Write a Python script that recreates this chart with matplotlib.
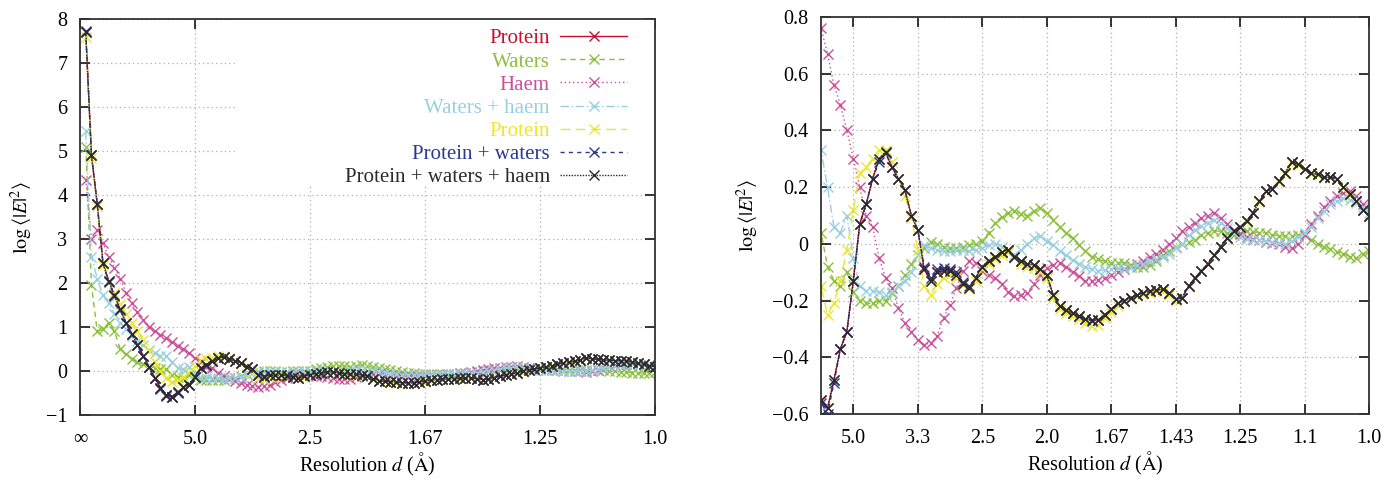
import numpy as np
import matplotlib
matplotlib.use('agg')
import matplotlib.pyplot as plt
from matplotlib.patches import Rectangle

plt.rcParams['font.family'] = ['Liberation Serif', 'DejaVu Serif']
plt.rcParams['mathtext.fontset'] = 'stix'

# resolution bins, 1/d in 1/Angstrom
inv_d = np.arange(1, 101) / 100.0

pwh = [7.70, 4.90, 3.80, 2.45, 2.05, 1.72, 1.40, 1.10, 0.85, 0.60,
       0.35, 0.10, -0.15, -0.38, -0.55, -0.58, -0.48, -0.37, -0.31, -0.13,
       0.07, 0.14, 0.23, 0.30, 0.325, 0.27, 0.23, 0.19, 0.10, 0.05,
       -0.09, -0.13, -0.10, -0.095, -0.095, -0.11, -0.14, -0.155, -0.12, -0.08,
       -0.06, -0.045, -0.03, -0.02, -0.045, -0.06, -0.07, -0.075, -0.09, -0.11,
       -0.18, -0.22, -0.235, -0.245, -0.255, -0.265, -0.27, -0.268, -0.25, -0.23,
       -0.21, -0.20, -0.19, -0.18, -0.172, -0.167, -0.163, -0.16, -0.175, -0.195,
       -0.19, -0.15, -0.12, -0.095, -0.07, -0.04, -0.01, 0.02, 0.045, 0.06,
       0.08, 0.11, 0.15, 0.185, 0.195, 0.22, 0.25, 0.29, 0.28, 0.265,
       0.25, 0.245, 0.235, 0.235, 0.23, 0.20, 0.175, 0.15, 0.12, 0.10]

protein_waters = [7.72, 4.90, 3.80, 2.45, 2.02, 1.70, 1.38, 1.08, 0.83, 0.58,
                  0.33, 0.08, -0.17, -0.40, -0.56, -0.60, -0.49, -0.37, -0.31, -0.13,
                  0.07, 0.14, 0.23, 0.29, 0.32, 0.27, 0.23, 0.19, 0.10, 0.05,
                  -0.08, -0.12, -0.09, -0.085, -0.09, -0.10, -0.135, -0.15, -0.12, -0.08,
                  -0.06, -0.045, -0.03, -0.02, -0.045, -0.06, -0.07, -0.075, -0.09, -0.11,
                  -0.18, -0.22, -0.235, -0.245, -0.255, -0.265, -0.272, -0.268, -0.25, -0.23,
                  -0.21, -0.20, -0.19, -0.18, -0.172, -0.167, -0.163, -0.16, -0.175, -0.195,
                  -0.19, -0.15, -0.12, -0.095, -0.07, -0.04, -0.01, 0.02, 0.045, 0.06,
                  0.08, 0.11, 0.15, 0.185, 0.195, 0.22, 0.25, 0.29, 0.28, 0.265,
                  0.25, 0.245, 0.235, 0.235, 0.23, 0.20, 0.175, 0.15, 0.12, 0.10]

protein = [7.60, 4.85, 3.75, 2.40, 2.05, 1.78, 1.52, 1.30, 1.10, 0.90,
           0.70, 0.45, 0.20, 0.00, -0.15, -0.25, -0.21, -0.13, -0.02, 0.12,
           0.25, 0.27, 0.30, 0.33, 0.33, 0.29, 0.23, 0.17, 0.09, -0.02,
           -0.15, -0.18, -0.14, -0.12, -0.11, -0.12, -0.145, -0.16, -0.13, -0.09,
           -0.07, -0.055, -0.04, -0.03, -0.05, -0.07, -0.08, -0.085, -0.10, -0.12,
           -0.19, -0.23, -0.245, -0.255, -0.265, -0.28, -0.29, -0.285, -0.26, -0.24,
           -0.22, -0.205, -0.195, -0.185, -0.178, -0.172, -0.168, -0.165, -0.18, -0.20,
           -0.192, -0.153, -0.122, -0.097, -0.072, -0.043, -0.012, 0.018, 0.043, 0.058,
           0.078, 0.108, 0.148, 0.183, 0.193, 0.218, 0.248, 0.285, 0.278, 0.263,
           0.248, 0.243, 0.233, 0.232, 0.228, 0.198, 0.173, 0.148, 0.118, 0.098]

waters = [5.10, 1.95, 0.90, 0.95, 1.10, 0.90, 0.50, 0.38, 0.28, 0.20,
          0.15, 0.10, 0.07, 0.05, 0.04, -0.08, -0.13, -0.15, -0.10, -0.17,
          -0.20, -0.21, -0.21, -0.20, -0.20, -0.175, -0.15, -0.11, -0.07, -0.04,
          -0.015, 0.005, 0.0, -0.01, -0.015, -0.015, -0.01, -0.005, 0.0, 0.01,
          0.04, 0.075, 0.095, 0.11, 0.115, 0.105, 0.10, 0.115, 0.125, 0.11,
          0.085, 0.06, 0.04, 0.02, -0.005, -0.025, -0.045, -0.055, -0.062, -0.067,
          -0.067, -0.067, -0.075, -0.083, -0.08, -0.073, -0.06, -0.04, -0.025, -0.01,
          0.0, 0.005, 0.015, 0.03, 0.04, 0.045, 0.045, 0.04, 0.033, 0.04,
          0.045, 0.042, 0.04, 0.038, 0.033, 0.028, 0.027, 0.027, 0.03, 0.033,
          0.015, 0.0, -0.01, -0.018, -0.027, -0.035, -0.045, -0.05, -0.035, -0.025]

haem = [4.35, 3.00, 3.20, 2.90, 2.60, 2.35, 2.10, 1.78, 1.55, 1.33,
        1.15, 1.00, 0.90, 0.82, 0.76, 0.67, 0.56, 0.49, 0.40, 0.30,
        0.20, 0.10, 0.06, -0.05, -0.12, -0.155, -0.225, -0.28, -0.31, -0.34,
        -0.355, -0.35, -0.325, -0.26, -0.215, -0.155, -0.095, -0.06, -0.067, -0.095,
        -0.11, -0.12, -0.14, -0.17, -0.185, -0.18, -0.175, -0.14, -0.11, -0.085,
        -0.073, -0.068, -0.08, -0.10, -0.115, -0.13, -0.13, -0.126, -0.12, -0.11,
        -0.10, -0.09, -0.08, -0.07, -0.06, -0.045, -0.035, -0.02, 0.0, 0.02,
        0.045, 0.06, 0.075, 0.09, 0.10, 0.11, 0.09, 0.07, 0.05, 0.035,
        0.025, 0.018, 0.012, 0.008, 0.004, 0.0, -0.01, -0.014, 0.0, 0.03,
        0.07, 0.10, 0.13, 0.15, 0.17, 0.18, 0.186, 0.17, 0.14, 0.10]

waters_haem = [5.45, 2.60, 2.10, 1.72, 1.55, 1.30, 1.10, 0.95, 0.80, 0.68,
               0.58, 0.47, 0.40, 0.35, 0.33, 0.20, 0.06, 0.04, 0.10, -0.05,
               -0.15, -0.165, -0.165, -0.17, -0.18, -0.17, -0.15, -0.13, -0.10, -0.04,
               -0.005, -0.015, -0.02, -0.025, -0.025, -0.02, -0.02, -0.025, -0.02, -0.015,
               -0.005, 0.0, -0.01, -0.03, -0.04, -0.02, 0.0, 0.02, 0.027, 0.01,
               -0.005, -0.025, -0.04, -0.058, -0.07, -0.082, -0.09, -0.095, -0.092, -0.087,
               -0.085, -0.085, -0.08, -0.075, -0.07, -0.062, -0.055, -0.045, -0.035, -0.015,
               0.0, 0.03, 0.05, 0.062, 0.075, 0.085, 0.075, 0.055, 0.04, 0.025,
               0.018, 0.015, 0.013, 0.01, 0.008, 0.003, 0.0, 0.01, 0.025, 0.04,
               0.06, 0.09, 0.115, 0.14, 0.15, 0.16, 0.155, 0.145, 0.13, 0.11]

# (label, values, colour, dash pattern) in gnuplot drawing order
series = [
    ('Protein', pwh, '#c8102e', None),
    ('Waters', waters, '#8cc03c', (4, 3)),
    ('Haem', haem, '#c9509a', (1, 2)),
    ('Waters + haem', waters_haem, '#99cfe0', (6, 2, 1, 2)),
    ('Protein', protein, '#ece62c', (7, 4)),
    ('Protein + waters', protein_waters, '#2b3990', (3, 3)),
    ('Protein + waters + haem', pwh, '#2a2a2a', (1, 1)),
]

left_ticks = [0.0, 0.2, 0.4, 0.6, 0.8, 1.0]
left_labels = ['\u221e', '5.0', '2.5', '1.67', '1.25', '1.0']
right_ticks = [0.2, 0.3, 0.4, 0.5, 0.6, 0.7, 0.8, 0.9, 1.0]
right_labels = ['5.0', '3.3', '2.5', '2.0', '1.67', '1.43', '1.25', '1.1', '1.0']
left_yticks = [-1, 0, 1, 2, 3, 4, 5, 6, 7, 8]
right_yticks = [-0.6, -0.4, -0.2, 0, 0.2, 0.4, 0.6, 0.8]

FS = 14.5


def fmt(v):
    s = f'{v:g}'
    if s == '-0':
        s = '0'
    return s.replace('-', '\u2212')


def draw_panel(ax, xticks, xlabels, yticks, xlim, ylim):
    lines = []
    for label, vals, col, dash in series:
        ln, = ax.plot(inv_d, vals, color=col, lw=1.0, marker='x', ms=7.5, mew=1.0,
                      label=label)
        if dash is not None:
            ln.set_dashes(dash)
        lines.append(ln)
    ax.set_xlim(*xlim)
    ax.set_ylim(*ylim)
    ax.set_xticks(xticks)
    ax.set_xticklabels(xlabels)
    ax.set_yticks(yticks)
    ax.set_yticklabels([fmt(v) for v in yticks])
    ax.set_axisbelow(True)
    ax.grid(True, color='#b0b0b0', lw=0.9, ls=(0, (1, 2.5)))
    ax.tick_params(direction='in', length=7, width=1.1, top=True, right=True,
                   labelsize=FS)
    ax.tick_params(axis='x', pad=11)
    ax.tick_params(axis='y', pad=9)
    for sp in ax.spines.values():
        sp.set_linewidth(1.3)
        sp.set_color('#333333')
    ax.set_xlabel(r'Resolution $d$ ($\mathrm{\AA}$)', fontsize=FS, labelpad=1)
    ax.set_ylabel(r'$\log\langle|E|^2\rangle$', fontsize=FS, labelpad=8)
    return lines


fig = plt.figure(figsize=(13.86, 4.78), dpi=100)
ax1 = fig.add_axes([0.0577, 0.1318, 0.4149, 0.8285])
ax2 = fig.add_axes([0.5924, 0.1339, 0.3954, 0.8305])

lines = draw_panel(ax1, left_ticks, left_labels, left_yticks, (0, 1), (-1, 8))
draw_panel(ax2, right_ticks, right_labels, right_yticks, (0.15, 1.0), (-0.6, 0.8))

# key area hides the grid like gnuplot does
ax1.add_patch(Rectangle((0.27, 0.58), 0.73, 0.42, transform=ax1.transAxes,
                        facecolor='white', edgecolor='none', zorder=1))

leg = ax1.legend(handles=lines, loc='upper right', bbox_to_anchor=(0.951, 0.975),
                 frameon=False, markerfirst=False, labelcolor='linecolor',
                 fontsize=15, handlelength=3.2, handletextpad=0.5,
                 labelspacing=0.17, borderpad=0, borderaxespad=0)

fig.savefig('out.png', dpi=100)
